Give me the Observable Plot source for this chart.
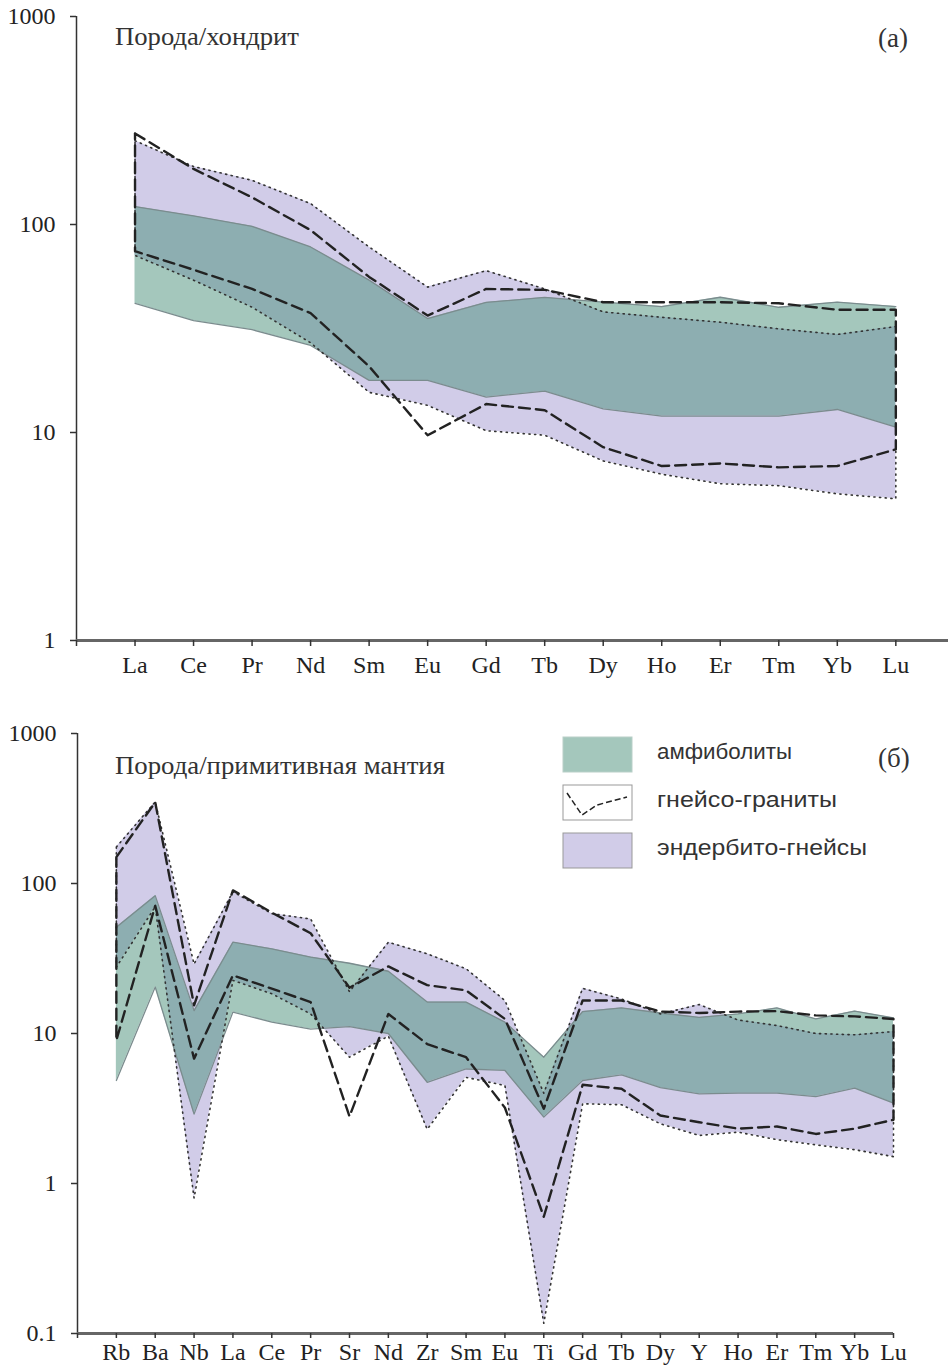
<!DOCTYPE html>
<html>
<head>
<meta charset="utf-8">
<script src="https://cdn.jsdelivr.net/npm/d3@7"></script>
<script src="https://cdn.jsdelivr.net/npm/@observablehq/plot@0.6"></script>
<style>
  body { margin: 0; background: #fff; }
  #wrap { position: relative; width: 948px; height: 1366px; background: #fff; overflow: hidden; }
  #top, #bottom, #overlay { position: absolute; left: 0; }
  #top { top: 0; }
  #bottom { top: 690px; }
  #overlay { top: 0; pointer-events: none; }
</style>
</head>
<body>
<div id="wrap">
  <div id="top"></div>
  <div id="bottom"></div>
  <svg id="overlay" width="948" height="1366"></svg>
</div>
<script>
// ---------- Panel (a): rock / chondrite ----------
const reeElements = ["La","Ce","Pr","Nd","Sm","Eu","Gd","Tb","Dy","Ho","Er","Tm","Yb","Lu"];
const reeEnderbiteUpper = [253, 190, 163, 126, 78, 50, 60, 49, 38, 35.8, 33.9, 31.5, 29.6, 32.3];
const reeEnderbiteLower = [71, 54, 40, 27, 15.6, 13.5, 10.2, 9.7, 7.3, 6.3, 5.67, 5.55, 5.07, 4.8];
const reeAmphiboliteUpper = [122, 110, 98, 78, 54, 35.3, 42.2, 44.6, 42.3, 40.3, 44.7, 40, 42.3, 40.3];
const reeAmphiboliteLower = [41.8, 34.5, 31.2, 26.2, 17.8, 17.8, 14.8, 15.8, 13, 12, 12, 12, 12.9, 10.6];
const reeGraniteUpper = [274, 185, 135, 94, 56, 36.5, 49, 48.5, 42.3, 42.3, 42.3, 41.8, 38.9, 38.9];
const reeGraniteLower = [74.4, 60.6, 49, 37.5, 20.8, 9.7, 13.7, 12.8, 8.5, 6.9, 7.1, 6.8, 6.9, 8.3];
const reeTicks = [1, 10, 100, 1000];

// ---------- Panel (б): rock / primitive mantle ----------
const pmElements = ["Rb","Ba","Nb","La","Ce","Pr","Sr","Nd","Zr","Sm","Eu","Ti","Gd","Tb","Dy","Y","Ho","Er","Tm","Yb","Lu"];
const pmEnderbiteUpper = [175, 350, 29, 88, 63, 58, 19, 40.6, 34, 27, 16.6, 4, 20, 17, 13.5, 15.6, 12.3, 11.3, 10, 9.8, 10.3];
const pmEnderbiteLower = [27.7, 70, 0.8, 22.6, 18.4, 13.5, 6.95, 9.6, 2.3, 5.1, 4.5, 0.117, 3.4, 3.35, 2.5, 2.09, 2.2, 1.96, 1.81, 1.68, 1.51];
const pmAmphiboliteUpper = [51, 83, 14.2, 40.6, 36.7, 32.3, 29.4, 26, 16.2, 16.2, 11.9, 6.95, 14, 14.8, 13.7, 12.8, 13.5, 14.8, 12.5, 14.1, 12.7];
const pmAmphiboliteLower = [4.86, 20.4, 2.9, 13.9, 11.9, 10.7, 11.1, 10, 4.73, 5.8, 5.67, 2.77, 4.86, 5.3, 4.35, 3.96, 4.0, 4.0, 3.8, 4.32, 3.43];
const pmGraniteUpper = [150, 348, 15.4, 90, 64, 46.6, 20.2, 28, 21, 19.4, 12.5, 3.15, 16.6, 16.6, 14, 13.7, 14, 14.1, 13.2, 13, 12.5];
const pmGraniteLower = [9, 71, 6.8, 24.4, 19.9, 16.2, 2.8, 13.5, 8.5, 6.95, 3.2, 0.6, 4.55, 4.28, 2.84, 2.56, 2.32, 2.4, 2.14, 2.32, 2.66];
const pmTicks = [0.1, 1, 10, 100, 1000];

// ---------- legend / titles ----------
const legendLabels = ["амфиболиты", "гнейсо-граниты", "эндербито-гнейсы"];
const titleA = "Порода/хондрит";
const titleB = "Порода/примитивная мантия";

// ---------- styling ----------
const PURPLE = "#d1cce8";
const GREEN = "rgb(73,143,121)";
const GREEN_OPACITY = 0.5;
const GREEN_SOLID = "#a4c7bc";
const GREEN_EDGE = "#7b8c8e";
const DARK = "#222";

function bandRows(elements, up, lo) {
  return elements.map((el, k) => ({x: k + 1, el, y1: lo[k], y2: up[k]}));
}
function openLine(arr) {
  return arr.map((v, k) => ({x: k + 1, y: v}));
}
function closedPolygon(up, lo) {
  const a = up.map((v, k) => ({x: k + 1, y: v}));
  const b = lo.map((v, k) => ({x: k + 1, y: v})).reverse();
  return a.concat(b, [a[0]]);
}

function panel(cfg) {
  const enderbite = bandRows(cfg.elements, cfg.enU, cfg.enL);
  const amph = bandRows(cfg.elements, cfg.amU, cfg.amL);
  return Plot.plot({
    width: 948,
    height: cfg.height,
    marginLeft: cfg.marginLeft,
    marginRight: cfg.marginRight,
    marginTop: cfg.marginTop,
    marginBottom: cfg.marginBottom,
    style: {background: "transparent", fontFamily: "'Liberation Serif', 'DejaVu Serif', serif", fontSize: "24px", color: DARK, overflow: "visible"},
    x: {type: "linear", domain: [0, cfg.xMax], label: null},
    y: {type: "log", domain: cfg.yDomain, label: null},
    marks: [
      Plot.areaY(enderbite, {x: "x", y1: "y1", y2: "y2", fill: PURPLE}),
      Plot.areaY(amph, {x: "x", y1: "y1", y2: "y2", fill: GREEN, fillOpacity: GREEN_OPACITY}),
      Plot.line(openLine(cfg.amU), {x: "x", y: "y", stroke: GREEN_EDGE, strokeWidth: 1.3}),
      Plot.line(openLine(cfg.amL), {x: "x", y: "y", stroke: GREEN_EDGE, strokeWidth: 1.3}),
      Plot.line(closedPolygon(cfg.enU, cfg.enL), {x: "x", y: "y", stroke: "#333", strokeWidth: 1.6, strokeDasharray: "1.2,4.5"}),
      Plot.line(closedPolygon(cfg.grU, cfg.grL), {x: "x", y: "y", stroke: DARK, strokeWidth: 2.4, strokeDasharray: "11,6"}),
      Plot.ruleX([0], {y1: cfg.yDomain[0], y2: cfg.yDomain[1], stroke: "#333", strokeWidth: 1.5}),
      Plot.ruleY([cfg.yDomain[0]], {x1: 0, x2: cfg.xMax, stroke: "#666", strokeWidth: 3}),
      Plot.axisY({ticks: cfg.yTicks, tickFormat: d => String(d), tickSize: 6, tickPadding: 15, stroke: "#333", strokeWidth: 1.5, label: null}),
      Plot.axisX({ticks: d3.range(0, cfg.elements.length + 1), tickFormat: k => k === 0 ? "" : cfg.elements[k - 1],
                  tickSize: cfg.xTickSize, tickPadding: cfg.xTickPadding, stroke: "#333", strokeWidth: 1.5, label: null})
    ]
  });
}

document.getElementById("top").append(panel({
  elements: reeElements, enU: reeEnderbiteUpper, enL: reeEnderbiteLower,
  amU: reeAmphiboliteUpper, amL: reeAmphiboliteLower, grU: reeGraniteUpper, grL: reeGraniteLower,
  height: 690, marginLeft: 76, marginRight: 0, marginTop: 16, marginBottom: 50,
  xMax: 14.9, yDomain: [1, 1000], yTicks: reeTicks, xTickSize: 6, xTickPadding: 9
}));

document.getElementById("bottom").append(panel({
  elements: pmElements, enU: pmEnderbiteUpper, enL: pmEnderbiteLower,
  amU: pmAmphiboliteUpper, amL: pmAmphiboliteLower, grU: pmGraniteUpper, grL: pmGraniteLower,
  height: 676, marginLeft: 77, marginRight: 55, marginTop: 43, marginBottom: 33,
  xMax: 21, yDomain: [0.1, 1000], yTicks: pmTicks, xTickSize: 5, xTickPadding: 4
}));

// ---------- overlay: titles, panel letters, legend ----------
const ov = d3.select("#overlay");
const serif = "'Liberation Serif', 'DejaVu Serif', serif";
const sans = "'Liberation Sans', Arial, sans-serif";
ov.append("text").attr("x", 115).attr("y", 45).attr("font-family", serif).attr("font-size", 25)
  .attr("fill", "#333").attr("textLength", 184).attr("lengthAdjust", "spacingAndGlyphs").text(titleA);
ov.append("text").attr("x", 878).attr("y", 47).attr("font-family", serif).attr("font-size", 27)
  .attr("fill", "#333").text("(a)");
ov.append("text").attr("x", 115).attr("y", 774).attr("font-family", serif).attr("font-size", 25)
  .attr("fill", "#333").attr("textLength", 330).attr("lengthAdjust", "spacingAndGlyphs").text(titleB);
ov.append("text").attr("x", 878).attr("y", 767).attr("font-family", serif).attr("font-size", 27)
  .attr("fill", "#333").text("(б)");

const legY = [737, 785, 833];
// amphibolites swatch
ov.append("rect").attr("x", 563).attr("y", legY[0]).attr("width", 69).attr("height", 35)
  .attr("fill", GREEN_SOLID).attr("stroke", "#b9cfc8").attr("stroke-width", 1);
// granite swatch
ov.append("rect").attr("x", 563).attr("y", legY[1]).attr("width", 69).attr("height", 35)
  .attr("fill", "#fff").attr("stroke", "#999").attr("stroke-width", 1);
ov.append("path").attr("d", "M567,793 L582,815 L597,805 L627,797")
  .attr("fill", "none").attr("stroke", DARK).attr("stroke-width", 1.5).attr("stroke-dasharray", "6,3");
// enderbite swatch
ov.append("rect").attr("x", 563).attr("y", legY[2]).attr("width", 69).attr("height", 35)
  .attr("fill", PURPLE).attr("stroke", "#999").attr("stroke-width", 1);

const legWidths = [135, 180, 210];
legendLabels.forEach((t, k) => {
  ov.append("text").attr("x", 657).attr("y", legY[k] + 22).attr("font-family", sans).attr("font-size", 22)
    .attr("fill", "#333").attr("textLength", legWidths[k]).attr("lengthAdjust", "spacingAndGlyphs").text(t);
});
</script>
</body>
</html>
